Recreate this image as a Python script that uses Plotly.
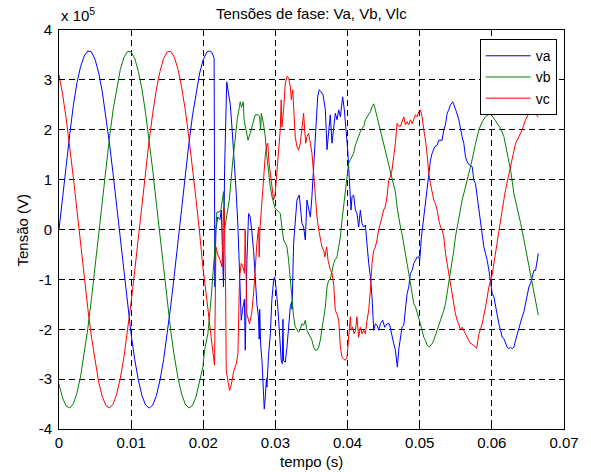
import plotly.graph_objects as go

# time in ms, voltage in units of 1e5 V
va_points = [(0,0),(0.5,0.67),(1,1.32),(1.5,1.92),(2,2.5),(2.5,2.95),(3,3.27),(3.5,3.48),(4,3.58),(4.5,3.56),(5,3.41),(5.5,3.14),(6,2.76),(6.5,2.28),(7,1.72),(7.5,1.11),(8,0.45),(8.5,-0.22),(9,-0.89),(9.5,-1.52),(10,-2.1),(10.5,-2.61),(11,-3.02),(11.5,-3.33),(12,-3.52),(12.5,-3.58),(13,-3.52),(13.5,-3.33),(14,-3.02),(14.5,-2.61),(15,-2.1),(15.5,-1.52),(16,-0.89),(16.5,-0.22),(17,0.45),(17.5,1.11),(18,1.72),(18.5,2.28),(19,2.76),(19.5,3.14),(20,3.41),(20.5,3.56),(20.8,3.58),(21.2,3.55),(21.5,3.43),(21.6,-1.15),(21.75,0.0),(22.0,0.25),(22.3,0.2),(22.5,0.39),(22.8,-1.15),(22.95,1.2),(23.25,2.96),(23.5,2.75),(23.75,2.5),(24.0,2.0),(24.3,1.4),(24.57,0.72),(24.8,0.07),(25.03,-0.95),(25.26,-1.82),(25.45,-1.6),(25.7,-1.4),(25.82,-2.42),(25.9,-1.5),(26.05,-0.62),(26.28,0.32),(26.5,0.25),(26.7,0.0),(26.97,-0.42),(27.2,-0.95),(27.43,-1.49),(27.65,-1.75),(27.75,-2.2),(27.82,-1.6),(27.95,-2.3),(28.13,-2.62),(28.36,-3.43),(28.45,-3.6),(28.6,-3.35),(28.75,-2.99),(28.82,-3.16),(28.9,-2.9),(29.05,-2.5),(29.3,-2.09),(29.5,-1.42),(29.75,-1.02),(29.9,-0.95),(30.1,-1.2),(30.3,-1.49),(30.6,-2.16),(30.8,-2.62),(30.95,-2.69),(31.04,-1.8),(31.13,-2.63),(31.37,-2.66),(31.6,-2.36),(31.83,-2.02),(32.06,-1.55),(32.25,-1.45),(32.3,-1.6),(32.52,-0.28),(32.75,0.25),(32.98,0.59),(33.3,0.69),(33.5,0.45),(33.68,0.12),(33.91,0.05),(34.14,-0.21),(34.37,0.59),(34.6,0.39),(34.84,0.25),(35.06,0.66),(35.3,1.33),(35.45,1.53),(35.67,2.26),(35.86,2.66),(36.05,2.8),(36.3,2.77),(36.6,2.7),(36.92,2.4),(37.15,1.6),(37.38,2.0),(37.6,2.3),(37.84,1.73),(38.07,2.0),(38.3,2.33),(38.54,2.2),(38.77,2.4),(39.0,2.26),(39.32,2.66),(39.55,2.4),(39.79,2.06),(40.02,1.59),(40.25,0.99),(40.48,0.39),(40.62,0.66),(40.85,0.69),(41.08,0.39),(41.31,0.32),(41.54,0.05),(41.77,0.39),(42.0,0.12),(42.23,0.05),(42.47,0.09),(42.7,-0.35),(42.93,-0.68),(43.16,-0.95),(43.39,-1.35),(43.62,-2.02),(43.85,-1.89),(44.08,-1.92),(44.31,-2.02),(44.55,-1.89),(44.87,-1.82),(45.15,-1.96),(45.47,-1.89),(45.8,-1.89),(46.07,-2.09),(46.4,-2.29),(46.63,-2.42),(46.9,-2.76),(47.1,-2.4),(47.33,-2.16),(47.56,-1.95),(47.79,-1.92),(48.02,-1.55),(48.25,-1.29),(48.48,-1.15),(48.71,-0.88),(48.95,-0.82),(49.18,-0.68),(49.41,-0.62),(49.64,-0.55),(49.87,-0.55),(50.0,-0.62),(50.24,-0.15),(50.56,0.25),(50.8,0.52),(51.03,0.79),(51.26,1.19),(51.49,1.39),(51.72,1.53),(52.09,1.66),(52.41,1.69),(52.65,1.79),(53.1,1.79),(53.34,2.0),(53.57,2.1),(53.8,2.33),(54.03,2.4),(54.26,2.5),(54.58,2.56),(54.86,2.46),(55.09,2.36),(55.42,2.2),(55.65,2.0),(55.88,1.86),(56.11,1.73),(56.34,1.46),(56.57,1.36),(56.9,1.29),(57.27,1.26),(57.5,0.99),(57.73,0.92),(57.96,0.66),(58.2,0.39),(58.43,0.12),(58.66,-0.15),(58.89,-0.35),(59.12,-0.48),(59.36,-0.62),(59.59,-0.82),(59.82,-1.02),(60.05,-1.29),(60.28,-1.35),(60.51,-1.55),(60.74,-1.75),(60.97,-1.89),(61.2,-2.02),(61.44,-2.16),(61.67,-2.19),(61.9,-2.29),(62.13,-2.36),(62.36,-2.39),(62.59,-2.36),(62.82,-2.39),(63.06,-2.36),(63.29,-2.22),(63.52,-2.09),(63.75,-1.96),(63.98,-1.82),(64.2,-1.75),(64.44,-1.65),(64.67,-1.49),(64.9,-1.29),(65.14,-1.15),(65.37,-1.08),(65.6,-0.95),(65.83,-0.82),(66.06,-0.82),(66.29,-0.55),(66.44,-0.48)]

vb_points = [(0,-3.1),(0.5,-3.38),(1,-3.54),(1.5,-3.58),(2,-3.49),(2.5,-3.27),(3,-2.94),(3.5,-2.5),(4,-1.98),(4.5,-1.39),(5,-0.74),(5.5,-0.08),(6,0.6),(6.5,1.25),(7,1.85),(7.5,2.4),(8,2.85),(8.5,3.21),(9,3.45),(9.5,3.57),(10,3.56),(10.5,3.43),(11,3.17),(11.5,2.81),(12,2.34),(12.5,1.79),(13,1.18),(13.5,0.52),(14,-0.15),(14.5,-0.82),(15,-1.46),(15.5,-2.04),(16,-2.56),(16.5,-2.98),(17,-3.3),(17.5,-3.5),(18,-3.58),(18.5,-3.53),(19,-3.35),(19.5,-3.06),(19.94,-2.76),(20.2,-2.4),(20.64,-2.09),(21.1,-1.35),(21.56,-0.48),(21.88,0.35),(22.2,0.35),(22.45,0.4),(22.7,0.72),(22.8,0.76),(22.95,0.0),(23.2,0.2),(23.6,0.59),(24.1,1.39),(24.4,1.8),(24.7,2.2),(25.0,2.45),(25.12,2.56),(25.3,2.45),(25.45,2.5),(25.55,2.56),(25.65,2.2),(25.9,2.0),(26.2,1.79),(26.5,1.93),(26.74,2.06),(27.2,2.3),(27.6,2.3),(27.8,2.28),(27.95,2.0),(28.05,2.33),(28.36,2.1),(28.59,1.86),(28.82,1.46),(29.05,1.12),(29.28,0.86),(29.52,0.66),(29.75,0.52),(29.97,0.42),(30.21,0.39),(30.44,0.35),(30.67,0.32),(30.9,0.05),(31.13,-0.21),(31.4,-0.28),(31.6,-0.35),(31.83,-0.62),(32.06,-1.02),(32.29,-1.42),(32.52,-1.75),(32.75,-1.95),(32.98,-2.02),(33.2,-2.06),(33.45,-1.99),(33.68,-1.89),(33.91,-1.92),(34.14,-1.82),(34.37,-2.02),(34.6,-2.09),(34.84,-2.16),(35.06,-2.22),(35.3,-2.36),(35.53,-2.42),(35.76,-2.42),(35.99,-2.36),(36.22,-2.22),(36.45,-2.02),(36.69,-1.75),(36.92,-1.55),(37.15,-1.15),(37.38,-1.02),(37.6,-1.0),(37.84,-0.82),(38.07,-0.68),(38.3,-0.6),(38.54,-0.55),(38.77,-0.35),(39.0,-0.15),(39.23,0.19),(39.46,0.46),(39.69,0.79),(39.92,1.06),(40.15,1.33),(40.39,1.4),(40.62,1.46),(40.85,1.53),(41.08,1.69),(41.31,1.79),(41.54,1.86),(41.77,1.96),(42.0,2.03),(42.23,2.06),(42.47,2.2),(42.7,2.26),(42.93,2.33),(43.16,2.36),(43.39,2.46),(43.62,2.52),(43.85,2.4),(44.08,2.26),(44.31,2.13),(44.78,1.86),(45.24,1.59),(45.7,1.33),(46.16,1.06),(46.4,0.9),(46.63,0.75),(46.86,0.45),(47.1,0.2),(47.33,0.05),(47.56,-0.1),(47.79,-0.28),(48.02,-0.42),(48.25,-0.68),(48.48,-0.88),(48.71,-1.08),(48.95,-1.29),(49.18,-1.49),(49.41,-1.55),(49.64,-1.65),(49.87,-1.75),(50.1,-1.89),(50.33,-2.02),(50.56,-2.16),(50.8,-2.22),(51.03,-2.32),(51.26,-2.36),(51.49,-2.32),(51.72,-2.29),(51.95,-2.22),(52.18,-2.12),(52.41,-2.02),(52.65,-1.92),(52.88,-1.82),(53.1,-1.75),(53.34,-1.62),(53.57,-1.49),(53.8,-1.29),(54.03,-1.02),(54.26,-0.82),(54.5,-0.62),(54.72,-0.42),(54.95,-0.15),(55.18,0.05),(55.42,0.25),(55.65,0.39),(55.88,0.59),(56.11,0.72),(56.34,0.85),(56.57,0.98),(56.8,1.1),(57.0,1.2),(57.27,1.4),(57.7,1.7),(58.2,2.0),(58.66,2.16),(59.12,2.26),(59.8,2.33),(60.28,2.23),(60.7,2.13),(61.2,2.03),(61.67,1.86),(62.13,1.53),(62.6,1.19),(63.06,0.72),(63.5,0.46),(64.0,0.12),(64.45,-0.21),(64.9,-0.55),(65.37,-0.95),(65.8,-1.29),(66.44,-1.72)]

vc_points = [(0,3.1),(0.5,2.71),(1,2.22),(1.5,1.66),(2,1.03),(2.5,0.37),(3,-0.3),(3.5,-0.96),(4,-1.59),(4.5,-2.16),(5,-2.66),(5.5,-3.06),(6,-3.35),(6.5,-3.53),(7,-3.58),(7.5,-3.5),(8,-3.3),(8.5,-2.98),(9,-2.56),(9.5,-2.04),(10,-1.46),(10.5,-0.82),(11,-0.15),(11.5,0.52),(12,1.18),(12.5,1.79),(13,2.34),(13.5,2.81),(14,3.17),(14.5,3.43),(15,3.56),(15.5,3.57),(16,3.45),(16.5,3.21),(17,2.85),(17.5,2.4),(18,1.85),(18.5,1.25),(19,0.6),(19.5,-0.08),(19.94,-0.75),(20.4,-1.29),(20.87,-1.82),(21.3,-2.42),(21.56,-2.72),(21.75,-0.35),(22.0,-0.5),(22.3,-0.6),(22.6,-0.75),(22.8,0.45),(22.9,0.4),(23.09,-1.15),(23.18,-2.83),(23.4,-3.05),(23.64,-3.23),(23.9,-3.1),(24.2,-2.85),(24.57,-2.69),(24.8,-2.5),(25.03,-0.95),(25.26,-0.68),(25.5,-0.75),(25.72,-0.88),(25.8,0.0),(25.9,-1.15),(26.05,-1.69),(26.4,-1.89),(26.7,-1.69),(26.97,-1.29),(27.2,-0.75),(27.43,-0.28),(27.67,0.05),(27.75,-0.55),(27.85,0.0),(28.0,0.3),(28.13,0.59),(28.36,1.06),(28.6,1.5),(28.8,1.69),(28.94,1.73),(29.1,1.35),(29.3,1.12),(29.52,0.9),(29.75,0.59),(29.97,0.72),(30.2,1.12),(30.44,1.46),(30.67,2.0),(30.8,2.6),(30.9,2.06),(31.13,2.4),(31.37,2.93),(31.6,3.07),(31.83,3.04),(32.06,2.87),(32.2,2.6),(32.4,2.8),(32.55,2.26),(32.75,1.86),(32.98,1.66),(33.2,1.59),(33.45,1.73),(33.68,2.0),(33.91,2.33),(34.05,2.0),(34.2,1.73),(34.37,1.86),(34.6,1.93),(34.84,1.73),(35.06,1.53),(35.3,1.12),(35.53,0.66),(35.76,0.25),(35.99,0.0),(36.22,-0.21),(36.45,-0.35),(36.69,-0.42),(36.85,-0.55),(37.1,-0.35),(37.3,-0.62),(37.6,-0.8),(37.84,-0.88),(38.07,-1.1),(38.3,-1.62),(38.54,-1.7),(38.77,-1.82),(39.0,-2.36),(39.23,-2.56),(39.46,-2.6),(39.69,-2.62),(39.92,-2.56),(40.15,-2.16),(40.39,-1.75),(40.5,-2.02),(40.7,-1.96),(40.9,-2.09),(41.1,-2.02),(41.3,-1.75),(41.54,-2.16),(41.77,-1.96),(42.0,-2.09),(42.23,-2.02),(42.47,-2.09),(42.7,-1.82),(42.93,-1.62),(43.16,-1.22),(43.39,-0.68),(43.62,-0.42),(43.85,-0.35),(44.08,-0.21),(44.31,0.0),(44.55,0.12),(44.78,0.25),(45.0,0.39),(45.24,0.46),(45.47,0.66),(45.7,0.99),(45.93,1.06),(46.16,1.19),(46.4,1.46),(46.63,1.73),(46.86,2.13),(47.1,2.07),(47.33,2.07),(47.56,2.17),(47.79,2.26),(48.02,2.1),(48.25,2.16),(48.48,2.1),(48.71,2.2),(48.95,2.12),(49.18,2.23),(49.41,2.3),(49.64,2.26),(49.87,2.36),(50.1,2.4),(50.33,2.26),(50.56,2.0),(50.8,1.79),(51.03,1.49),(51.26,1.12),(51.49,0.92),(51.72,0.72),(51.95,0.59),(52.18,0.52),(52.41,0.39),(52.65,0.19),(52.88,0.05),(53.1,-0.01),(53.34,-0.15),(53.57,-0.48),(53.8,-0.68),(54.03,-0.95),(54.26,-1.15),(54.5,-1.35),(54.72,-1.49),(54.95,-1.69),(55.18,-1.82),(55.4,-1.89),(55.65,-2.0),(55.88,-1.96),(56.11,-2.02),(56.34,-2.09),(56.57,-2.15),(56.8,-2.22),(57.0,-2.28),(57.27,-2.3),(57.7,-2.36),(57.9,-2.38),(58.2,-2.1),(58.66,-1.89),(59.12,-1.56),(59.59,-1.15),(60.05,-0.9),(60.5,-0.45),(60.97,-0.05),(61.44,0.4),(61.9,0.8),(62.36,1.1),(62.82,1.39),(63.29,1.73),(63.75,1.86),(64.2,2.0),(64.67,2.2),(65.14,2.33),(65.37,2.4),(65.83,2.36),(66.3,2.29),(66.44,2.25)]

series_names = ["va", "vb", "vc"]
series_colors = ["#0000ff", "#008000", "#ff0000"]
x_ticks = [0, 0.01, 0.02, 0.03, 0.04, 0.05, 0.06, 0.07]
x_tick_text = ["0", "0.01", "0.02", "0.03", "0.04", "0.05", "0.06", "0.07"]
y_ticks = [-4, -3, -2, -1, 0, 1, 2, 3, 4]
y_tick_text = ["-4", "-3", "-2", "-1", "0", "1", "2", "3", "4"]

FONT = "Liberation Sans, Arial, Helvetica, sans-serif"

fig = go.Figure()
for name, pts, col in zip(series_names, [va_points, vb_points, vc_points], series_colors):
    fig.add_trace(go.Scatter(
        x=[p[0] / 1000.0 for p in pts],
        y=[p[1] for p in pts],
        mode="lines", name=name,
        line=dict(color=col, width=1),
    ))

axis_common = dict(
    showgrid=True, gridcolor="black", gridwidth=1, griddash="6px,4px",
    showline=True, linecolor="black", linewidth=1, mirror="ticks",
    ticks="inside", ticklen=5, tickcolor="black", zeroline=False,
    tickfont=dict(family=FONT, size=15, color="black"),
)
fig.update_xaxes(range=[0, 0.07], tickvals=x_ticks, ticktext=x_tick_text, **axis_common)
fig.update_yaxes(range=[-4, 4], tickvals=y_ticks, ticktext=y_tick_text,
                 ticklabelstandoff=3, **axis_common)

fig.update_layout(
    width=591, height=472,
    margin=dict(l=59, r=27, t=30, b=43),
    paper_bgcolor="white", plot_bgcolor="white",
    font=dict(family=FONT, size=15, color="black"),
    showlegend=True,
    legend=dict(x=0.9855, y=0.977, xanchor="right", yanchor="top",
                bordercolor="black", borderwidth=1, bgcolor="white",
                font=dict(family=FONT, size=14, color="black"),
                itemwidth=45, tracegroupgap=0),
    annotations=[
        dict(text="Tensões de fase: Va, Vb, Vlc", xref="paper", yref="paper",
             x=0.5, y=1, xanchor="center", yanchor="bottom", yshift=6,
             showarrow=False, font=dict(family=FONT, size=15, color="black")),
        dict(text="x 10<sup>5</sup>", xref="paper", yref="paper",
             x=0, y=1, xanchor="left", yanchor="bottom", yshift=4,
             showarrow=False, font=dict(family=FONT, size=15, color="black")),
        dict(text="Tensão (V)", xref="paper", yref="paper", textangle=-90,
             x=-0.0713, y=0.5, xanchor="center", yanchor="middle",
             showarrow=False, font=dict(family=FONT, size=15, color="black")),
        dict(text="tempo (s)", xref="paper", yref="paper",
             x=0.5, y=-0.0827, xanchor="center", yanchor="middle",
             showarrow=False, font=dict(family=FONT, size=15, color="black")),
    ],
)

fig.write_html("out.html", config={"displayModeBar": False},
               post_script="document.body.style.margin='0px';")
